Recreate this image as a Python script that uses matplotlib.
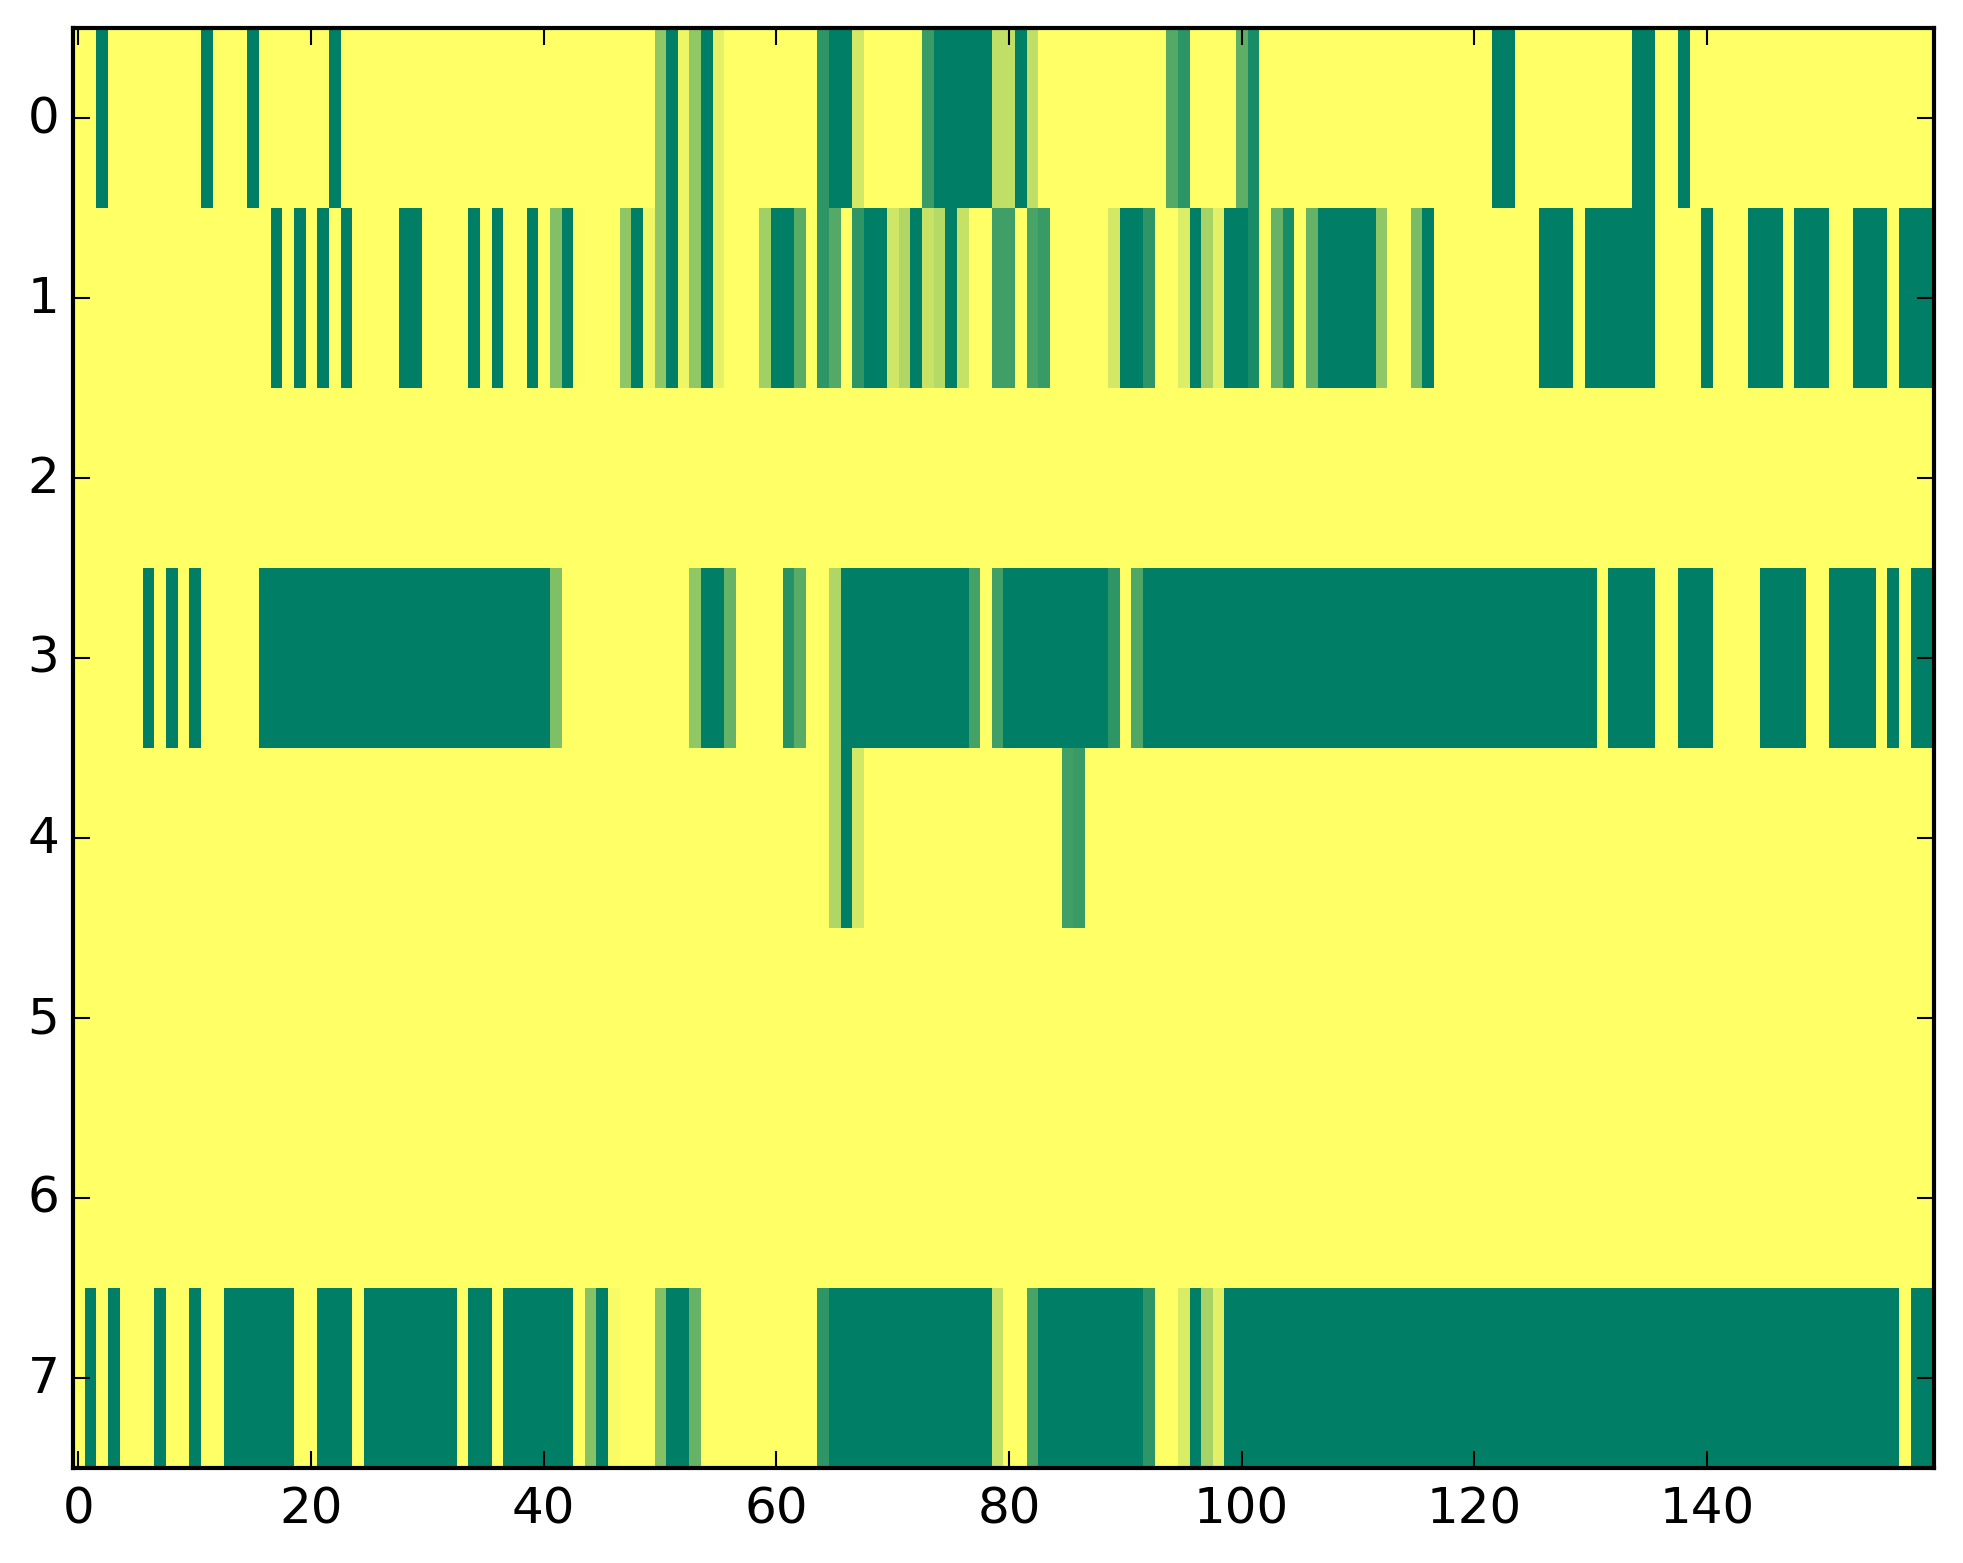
import numpy as np
import matplotlib
matplotlib.use("Agg")
import matplotlib.pyplot as plt

plt.style.use("classic")

n_rows = 8
n_cols = 160

# fully dark columns per row, as inclusive (start, end) runs
row0_full = [(2, 2), (11, 11), (15, 15), (22, 22), (51, 51), (54, 54), (65, 66), (74, 78),
             (81, 81), (122, 123), (134, 135), (138, 138)]
row1_full = [(17, 17), (19, 19), (21, 21), (23, 23), (28, 29), (34, 34), (36, 36), (39, 39),
             (42, 42), (48, 48), (51, 51), (54, 54), (60, 61), (68, 69), (72, 72), (75, 75),
             (90, 91), (96, 96), (99, 100), (107, 111), (116, 116), (126, 128), (130, 135),
             (140, 140), (144, 146), (148, 150), (153, 155), (157, 159)]
row3_full = [(6, 6), (8, 8), (10, 10), (16, 40), (54, 55), (66, 76), (80, 88), (92, 130),
             (132, 135), (138, 140), (145, 148), (151, 154), (156, 156), (158, 159)]
row4_full = [(66, 66)]
row7_full = [(1, 1), (3, 3), (7, 7), (10, 10), (13, 18), (21, 23), (25, 32), (34, 35),
             (37, 42), (45, 45), (51, 52), (65, 78), (83, 91), (96, 96), (99, 156), (158, 159)]

# in-between columns per row, column -> value
row0_partial = {50: .44, 52: .07, 53: .43, 55: .10, 64: .82, 67: .17, 73: .77, 79: .25, 80: .25,
                82: .25, 94: .67, 95: .83, 100: .63, 101: .90}
row1_partial = {41: .49, 43: .01, 47: .44, 49: .06, 50: .44, 52: .07, 53: .43, 55: .10, 59: .37,
                62: .65, 64: .82, 65: .67, 67: .82, 70: .19, 71: .31, 73: .22, 74: .29, 76: .23,
                79: .75, 80: .75, 82: .72, 83: .78, 89: .17, 92: .82, 95: .14, 97: .35, 98: .12,
                101: .90, 103: .60, 104: .90, 106: .60, 112: .44, 115: .52}
row3_partial = {41: .50, 53: .43, 56: .60, 61: .85, 62: .65, 65: .31, 77: .73, 79: .75, 89: .82,
                91: .69}
row4_partial = {65: .31, 67: .17, 85: .75, 86: .78}
row7_partial = {44: .47, 46: .03, 50: .48, 53: .60, 64: .82, 79: .23, 82: .72, 92: .82, 95: .15,
                97: .35, 98: .12}

full_runs = {0: row0_full, 1: row1_full, 3: row3_full, 4: row4_full, 7: row7_full}
partials = {0: row0_partial, 1: row1_partial, 3: row3_partial, 4: row4_partial, 7: row7_partial}

matrix = np.zeros((n_rows, n_cols))
for row, runs in full_runs.items():
    for start, end in runs:
        matrix[row, start:end + 1] = 1.0
for row, cols in partials.items():
    for col, value in cols.items():
        matrix[row, col] = value

fig = plt.figure(figsize=(1963 / 300, 1564 / 300), facecolor="white")
ax = fig.add_axes([72.6 / 1963, (1564 - 1469) / 1564, 1861 / 1963, 1440 / 1564])
ax.imshow(matrix, cmap="summer_r", vmin=0, vmax=1, aspect="auto", interpolation="nearest")
ax.set_xticks(np.arange(0, 141, 20))
ax.set_yticks(np.arange(0, 8))
ax.tick_params(axis="y", pad=3.2)
ax.set_xlim(-0.5, 159.5)
ax.set_ylim(7.5, -0.5)

fig.savefig("out.png", dpi=300, facecolor="white")
